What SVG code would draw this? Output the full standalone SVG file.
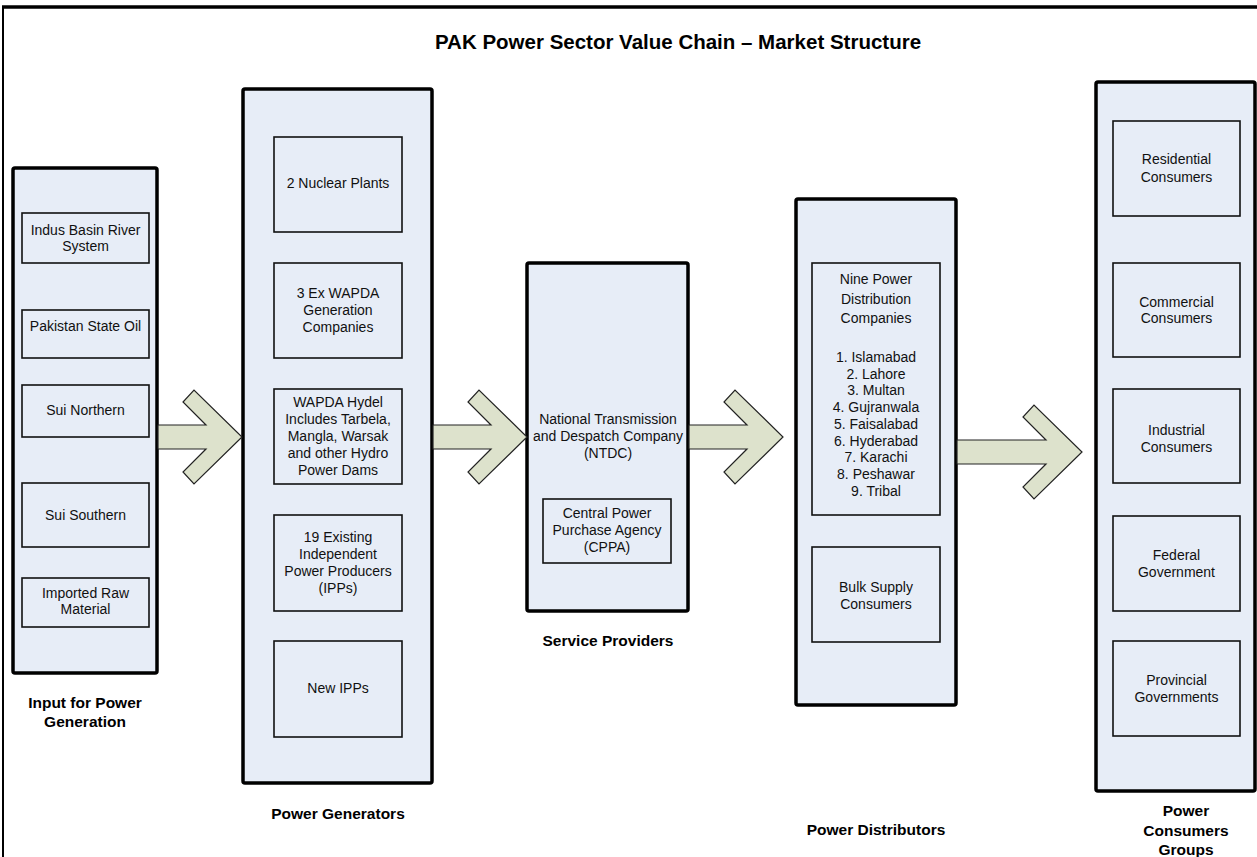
<svg xmlns="http://www.w3.org/2000/svg" width="1257" height="857" viewBox="0 0 1257 857">
<style>
.col{fill:#e7edf7;stroke:#000;stroke-width:3.5}
.box{fill:#e7edf7;stroke:#111;stroke-width:1.6}
.t{font-family:"Liberation Sans",Arial,sans-serif;font-size:14px;fill:#111;text-anchor:middle}
.lbl{font-family:"Liberation Sans",Arial,sans-serif;font-size:15.5px;font-weight:bold;fill:#000;text-anchor:middle}
.title{font-family:"Liberation Sans",Arial,sans-serif;font-size:20.5px;font-weight:bold;fill:#000;text-anchor:middle}
.arr{fill:#dde2cc;stroke:#222;stroke-width:1.2;stroke-linejoin:miter}
</style>
<rect width="1257" height="857" fill="#fff"/>
<g id="frame">
<path d="M3,857 V7" stroke="#000" stroke-width="2" fill="none"/>
<path d="M2,7 H1257" stroke="#000" stroke-width="3.5" fill="none"/>
<text class="title" x="678" y="49">PAK Power Sector Value Chain – Market Structure</text>
</g>

<g id="input-column">
<rect class="col" x="13" y="168" width="144" height="505" rx="2"/>
<text class="lbl" x="85" y="708">Input for Power</text>
<text class="lbl" x="85" y="727">Generation</text>
</g>
<g id="indus"><rect class="box" x="22" y="213" width="127" height="50"/><text class="t" x="85.5" y="235">Indus Basin River</text><text class="t" x="85.5" y="251">System</text></g>
<g id="pso"><rect class="box" x="22" y="310" width="127" height="48"/><text class="t" x="85.5" y="331">Pakistan State Oil</text></g>
<g id="sui-northern"><rect class="box" x="22" y="385" width="127" height="52"/><text class="t" x="85.5" y="415">Sui Northern</text></g>
<g id="sui-southern"><rect class="box" x="22" y="483" width="127" height="64"/><text class="t" x="85.5" y="520">Sui Southern</text></g>
<g id="imported"><rect class="box" x="22" y="578" width="127" height="49"/><text class="t" x="85.5" y="598">Imported Raw</text><text class="t" x="85.5" y="614">Material</text></g>

<g id="generators-column">
<rect class="col" x="243" y="89" width="189" height="694" rx="2"/>
<text class="lbl" x="338" y="819">Power Generators</text>
</g>
<g id="nuclear"><rect class="box" x="274" y="137" width="128" height="95"/><text class="t" x="338" y="188">2 Nuclear Plants</text></g>
<g id="ex-wapda"><rect class="box" x="274" y="263" width="128" height="95"/><text class="t" x="338" y="298">3 Ex WAPDA</text><text class="t" x="338" y="315">Generation</text><text class="t" x="338" y="332">Companies</text></g>
<g id="wapda-hydel"><rect class="box" x="274" y="389" width="128" height="95"/><text class="t" x="338" y="407">WAPDA Hydel</text><text class="t" x="338" y="424">Includes Tarbela,</text><text class="t" x="338" y="441">Mangla, Warsak</text><text class="t" x="338" y="458">and other Hydro</text><text class="t" x="338" y="475">Power Dams</text></g>
<g id="ipps"><rect class="box" x="274" y="515" width="128" height="96"/><text class="t" x="338" y="542">19 Existing</text><text class="t" x="338" y="559">Independent</text><text class="t" x="338" y="576">Power Producers</text><text class="t" x="338" y="593">(IPPs)</text></g>
<g id="new-ipps"><rect class="box" x="274" y="641" width="128" height="96"/><text class="t" x="338" y="693">New IPPs</text></g>

<g id="ntdc">
<rect class="col" x="527" y="263" width="161" height="348" rx="2"/>
<text class="t" x="608" y="424">National Transmission</text>
<text class="t" x="608" y="441">and Despatch Company</text>
<text class="t" x="608" y="458">(NTDC)</text>
<text class="lbl" x="608" y="646">Service Providers</text>
</g>
<g id="cppa"><rect class="box" x="543" y="499" width="128" height="64"/><text class="t" x="607" y="518">Central Power</text><text class="t" x="607" y="535">Purchase Agency</text><text class="t" x="607" y="552">(CPPA)</text></g>

<g id="distributors-column">
<rect class="col" x="796" y="199" width="160" height="506" rx="2"/>
<text class="lbl" x="876" y="835">Power Distributors</text>
</g>
<g id="discos"><rect class="box" x="812" y="263" width="128" height="252"/>
<text class="t" x="876" y="284">Nine Power</text><text class="t" x="876" y="304">Distribution</text><text class="t" x="876" y="323">Companies</text>
<text class="t" x="876" y="362">1. Islamabad</text><text class="t" x="876" y="378.7">2. Lahore</text><text class="t" x="876" y="395.4">3. Multan</text><text class="t" x="876" y="412.1">4. Gujranwala</text><text class="t" x="876" y="428.8">5. Faisalabad</text><text class="t" x="876" y="445.5">6. Hyderabad</text><text class="t" x="876" y="462.2">7. Karachi</text><text class="t" x="876" y="478.9">8. Peshawar</text><text class="t" x="876" y="495.6">9. Tribal</text></g>
<g id="bulk"><rect class="box" x="812" y="547" width="128" height="95"/><text class="t" x="876" y="592">Bulk Supply</text><text class="t" x="876" y="609">Consumers</text></g>

<g id="consumers-column">
<rect class="col" x="1096" y="82" width="159" height="709" rx="2"/>
<text class="lbl" x="1186" y="816">Power</text>
<text class="lbl" x="1186" y="836">Consumers</text>
<text class="lbl" x="1186" y="855">Groups</text>
</g>
<g id="residential"><rect class="box" x="1113" y="121" width="127" height="95"/><text class="t" x="1176.5" y="164">Residential</text><text class="t" x="1176.5" y="182">Consumers</text></g>
<g id="commercial"><rect class="box" x="1113" y="263" width="127" height="94"/><text class="t" x="1176.5" y="307">Commercial</text><text class="t" x="1176.5" y="323">Consumers</text></g>
<g id="industrial"><rect class="box" x="1113" y="389" width="127" height="94"/><text class="t" x="1176.5" y="435">Industrial</text><text class="t" x="1176.5" y="452">Consumers</text></g>
<g id="federal"><rect class="box" x="1113" y="516" width="127" height="95"/><text class="t" x="1176.5" y="560">Federal</text><text class="t" x="1176.5" y="577">Government</text></g>
<g id="provincial"><rect class="box" x="1113" y="641" width="127" height="95"/><text class="t" x="1176.5" y="685">Provincial</text><text class="t" x="1176.5" y="702">Governments</text></g>

<g id="connectors">
<polygon class="arr" points="158,425 206,425 183,402 194,390 242,437 194,484 183,472 206,449 158,449"/>
<polygon class="arr" points="433,425 491,425 468,402 479,390 527,437 479,484 468,472 491,449 433,449"/>
<polygon class="arr" points="689,425 747,425 724,402 735,390 783,437 735,484 724,472 747,449 689,449"/>
<polygon class="arr" points="957,440 1046,440 1023,417 1034,405 1082,452 1034,499 1023,487 1046,464 957,464"/>
</g>
</svg>
